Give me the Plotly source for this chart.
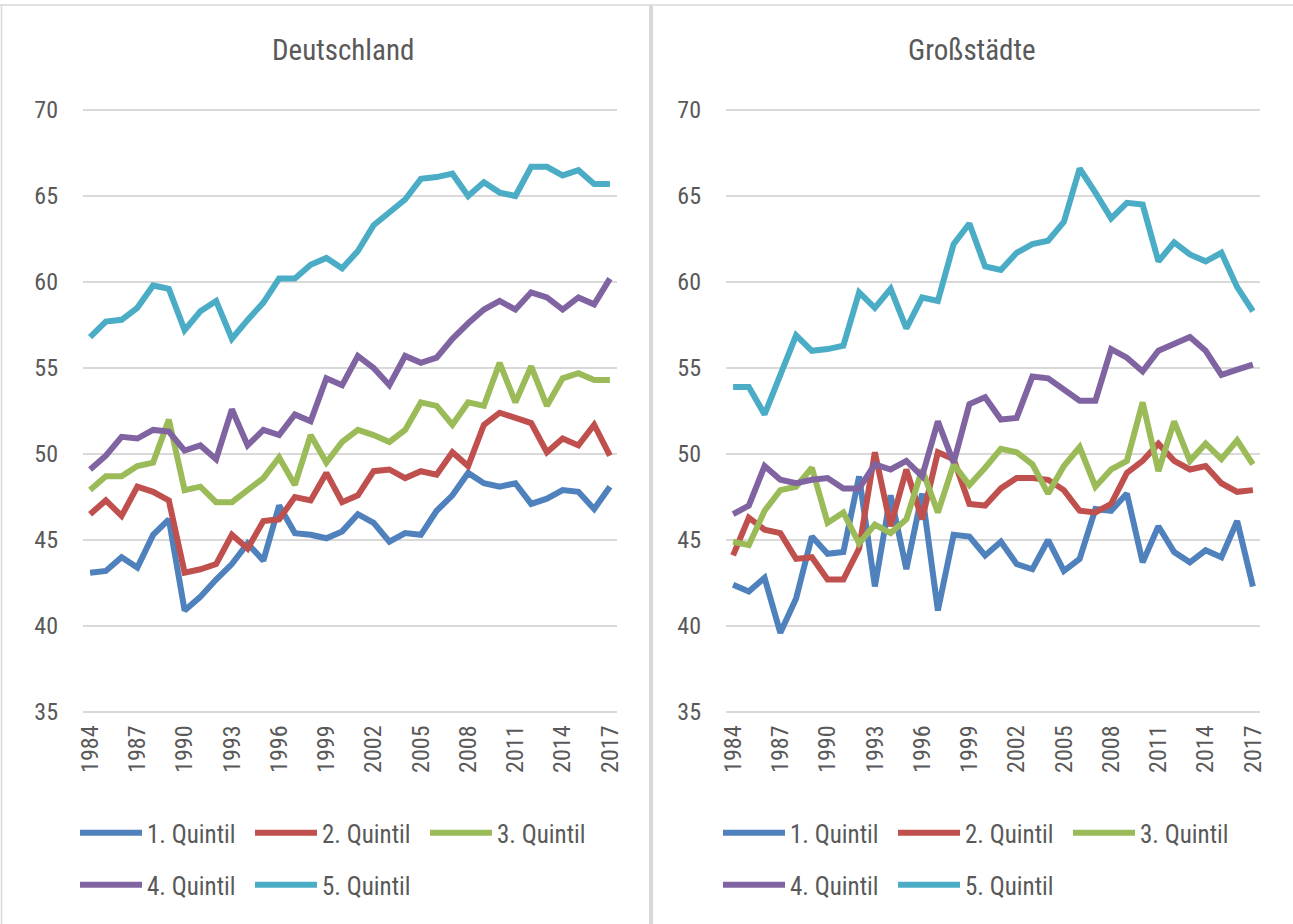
import plotly.graph_objects as go

years = list(range(1984, 2018))
tick_years = list(range(1984, 2018, 3))
y_ticks = [35, 40, 45, 50, 55, 60, 65, 70]

series_names = ["1. Quintil", "2. Quintil", "3. Quintil", "4. Quintil", "5. Quintil"]
series_colors = ["#4F81BD", "#C0504D", "#9BBB59", "#8064A2", "#4BACC6"]

# Deutschland
de_q1 = [43.1, 43.2, 44.0, 43.4, 45.3, 46.2, 40.9, 41.7, 42.7, 43.6, 44.8, 43.8, 47.0, 45.4,
         45.3, 45.1, 45.5, 46.5, 46.0, 44.9, 45.4, 45.3, 46.7, 47.6, 48.9, 48.3, 48.1, 48.3,
         47.1, 47.4, 47.9, 47.8, 46.8, 48.1]
de_q2 = [46.5, 47.3, 46.4, 48.1, 47.8, 47.3, 43.1, 43.3, 43.6, 45.3, 44.5, 46.1, 46.2, 47.5,
         47.3, 48.9, 47.2, 47.6, 49.0, 49.1, 48.6, 49.0, 48.8, 50.1, 49.3, 51.7, 52.4, 52.1,
         51.8, 50.1, 50.9, 50.5, 51.7, 49.9]
de_q3 = [47.9, 48.7, 48.7, 49.3, 49.5, 52.0, 47.9, 48.1, 47.2, 47.2, 47.9, 48.6, 49.8, 48.2,
         51.1, 49.5, 50.7, 51.4, 51.1, 50.7, 51.4, 53.0, 52.8, 51.7, 53.0, 52.8, 55.3, 53.0,
         55.1, 52.8, 54.4, 54.7, 54.3, 54.3]
de_q4 = [49.1, 49.9, 51.0, 50.9, 51.4, 51.3, 50.2, 50.5, 49.7, 52.6, 50.5, 51.4, 51.1, 52.3,
         51.9, 54.4, 54.0, 55.7, 55.0, 54.0, 55.7, 55.3, 55.6, 56.7, 57.6, 58.4, 58.9, 58.4,
         59.4, 59.1, 58.4, 59.1, 58.7, 60.2]
de_q5 = [56.8, 57.7, 57.8, 58.5, 59.8, 59.6, 57.2, 58.3, 58.9, 56.7, 57.8, 58.8, 60.2, 60.2,
         61.0, 61.4, 60.8, 61.8, 63.3, 64.1, 64.8, 66.0, 66.1, 66.3, 65.0, 65.8, 65.2, 65.0,
         66.7, 66.7, 66.2, 66.5, 65.7, 65.7]

# Großstädte
gs_q1 = [42.4, 42.0, 42.8, 39.6, 41.6, 45.2, 44.2, 44.3, 48.7, 42.3, 47.6, 43.3, 47.7, 40.9,
         45.3, 45.2, 44.1, 44.9, 43.6, 43.3, 45.0, 43.2, 43.9, 46.8, 46.7, 47.7, 43.7, 45.8,
         44.3, 43.7, 44.4, 44.0, 46.1, 42.3]
gs_q2 = [44.1, 46.3, 45.6, 45.4, 43.9, 44.0, 42.7, 42.7, 44.5, 50.1, 45.8, 49.1, 46.2, 50.1,
         49.7, 47.1, 47.0, 48.0, 48.6, 48.6, 48.5, 47.9, 46.7, 46.6, 47.1, 48.9, 49.6, 50.6,
         49.6, 49.1, 49.3, 48.3, 47.8, 47.9]
gs_q3 = [44.9, 44.7, 46.7, 47.9, 48.1, 49.2, 46.0, 46.6, 44.8, 45.9, 45.4, 46.2, 49.1, 46.6,
         49.4, 48.2, 49.2, 50.3, 50.1, 49.4, 47.7, 49.3, 50.4, 48.1, 49.1, 49.6, 53.0, 49.0,
         51.9, 49.6, 50.6, 49.7, 50.8, 49.4]
gs_q4 = [46.5, 47.0, 49.3, 48.5, 48.3, 48.5, 48.6, 48.0, 48.0, 49.4, 49.1, 49.6, 48.7, 51.9,
         49.5, 52.9, 53.3, 52.0, 52.1, 54.5, 54.4, 53.8, 53.1, 53.1, 56.1, 55.6, 54.8, 56.0,
         56.4, 56.8, 56.0, 54.6, 54.9, 55.2]
gs_q5 = [53.9, 53.9, 52.3, 54.5, 56.9, 56.0, 56.1, 56.3, 59.4, 58.5, 59.6, 57.3, 59.1, 58.9,
         62.2, 63.4, 60.9, 60.7, 61.7, 62.2, 62.4, 63.5, 66.6, 65.2, 63.7, 64.6, 64.5, 61.2,
         62.3, 61.6, 61.2, 61.7, 59.7, 58.3]

de_series = [de_q1, de_q2, de_q3, de_q4, de_q5]
gs_series = [gs_q1, gs_q2, gs_q3, gs_q4, gs_q5]
panel_titles = ["Deutschland", "Großstädte"]

FONT = "Roboto Condensed, Liberation Sans Narrow, DejaVu Sans Condensed, sans-serif"
TXT = "#595959"
GRID = "#D9D9D9"

W, H = 1293, 924
fig = go.Figure()

legend_map = [["legend", "legend", "legend", "legend2", "legend2"],
              ["legend3", "legend3", "legend3", "legend4", "legend4"]]

for p, (series, xa, ya) in enumerate([(de_series, "x", "y"), (gs_series, "x2", "y2")]):
    for i, vals in enumerate(series):
        fig.add_trace(go.Scatter(
            x=years, y=vals, mode="lines", name=series_names[i],
            line=dict(color=series_colors[i], width=6),
            xaxis=xa, yaxis=ya, legend=legend_map[p][i], showlegend=True,
            hoverinfo="x+y+name"))

def xaxis_cfg(domain):
    return dict(domain=domain, range=[1983.55, 2017.45], tickvals=tick_years,
                tickangle=-90, showgrid=False, zeroline=False, showline=False,
                tickfont=dict(family=FONT, size=24, color=TXT), ticks="",
                ticklabelstandoff=6, fixedrange=True, automargin=False)

def yaxis_cfg(domain, anchor):
    return dict(domain=domain, range=[34.9, 70.1], tickvals=y_ticks, showgrid=True,
                gridcolor=GRID, gridwidth=2, zeroline=False, showline=False,
                tickfont=dict(family=FONT, size=24, color=TXT), ticks="",
                ticklabelstandoff=24, anchor=anchor, fixedrange=True, automargin=False)

ydom = [1 - 713.7 / H, 1 - 108.3 / H]
fig.update_layout(
    width=W, height=H,
    margin=dict(l=0, r=0, t=0, b=0, pad=0, autoexpand=False),
    paper_bgcolor="white", plot_bgcolor="white",
    font=dict(family=FONT, color=TXT),
    xaxis=xaxis_cfg([83 / W, 617 / W]) | dict(anchor="y"),
    yaxis=yaxis_cfg(ydom, "x"),
    xaxis2=xaxis_cfg([726 / W, 1260 / W]) | dict(anchor="y2"),
    yaxis2=yaxis_cfg(ydom, "x2"),
    showlegend=True,
)

leg_common = dict(orientation="h", xanchor="left", yanchor="middle",
                  font=dict(family=FONT, size=25, color=TXT), bgcolor="rgba(0,0,0,0)",
                  itemwidth=62, entrywidth=98, entrywidthmode="pixels",
                  tracegroupgap=0, itemclick=False, itemdoubleclick=False)
row1_y = 1 - 833 / H
row2_y = 1 - 885 / H
fig.update_layout(
    legend=leg_common | dict(x=75 / W, y=row1_y),
    legend2=leg_common | dict(x=75 / W, y=row2_y),
    legend3=leg_common | dict(x=718 / W, y=row1_y),
    legend4=leg_common | dict(x=718 / W, y=row2_y),
)

for t, cx in zip(panel_titles, [343, 972]):
    fig.add_annotation(text=t, x=cx / W, y=1 - 50 / H, xref="paper", yref="paper",
                       showarrow=False, xanchor="center", yanchor="middle",
                       font=dict(family=FONT, size=29, color=TXT))

# panel borders
fig.add_shape(type="line", xref="paper", yref="paper", x0=0, x1=1, y0=1 - 5 / H, y1=1 - 5 / H,
              line=dict(color=GRID, width=1.5))
fig.add_shape(type="line", xref="paper", yref="paper", x0=1.5 / W, x1=1.5 / W, y0=0, y1=1 - 5 / H,
              line=dict(color=GRID, width=1.5))
fig.add_shape(type="rect", xref="paper", yref="paper", x0=649 / W, x1=653 / W, y0=0, y1=1 - 5 / H,
              line=dict(width=0), fillcolor=GRID)

fig.write_html("out.html", config={"displayModeBar": False},
               post_script="document.body.style.margin='0px';document.body.style.overflow='hidden';")
